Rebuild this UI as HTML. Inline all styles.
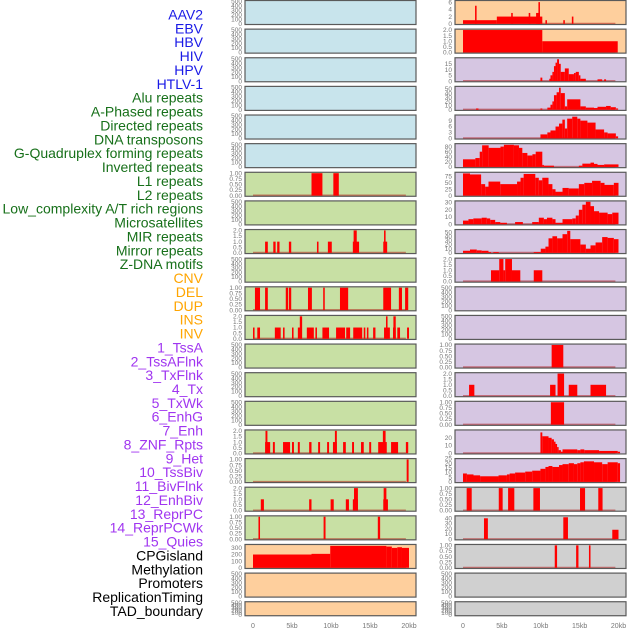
<!DOCTYPE html>
<html><head><meta charset="utf-8"><style>
html,body{margin:0;padding:0;background:#fff;}
svg{display:block;font-family:"Liberation Sans",sans-serif;}
</style></head><body>
<svg id="chart" width="630" height="630" viewBox="0 0 630 630" xmlns="http://www.w3.org/2000/svg"></svg>
<script>
// ---------- data ----------
const trackLabels = ["AAV2","EBV","HBV","HIV","HPV","HTLV-1","Alu repeats","A-Phased repeats","Directed repeats","DNA transposons","G-Quadruplex forming repeats","Inverted repeats","L1 repeats","L2 repeats","Low_complexity A/T rich regions","Microsatellites","MIR repeats","Mirror repeats","Z-DNA motifs","CNV","DEL","DUP","INS","INV","1_TssA","2_TssAFlnk","3_TxFlnk","4_Tx","5_TxWk","6_EnhG","7_Enh","8_ZNF_Rpts","9_Het","10_TssBiv","11_BivFlnk","12_EnhBiv","13_ReprPC","14_ReprPCWk","15_Quies","CPGisland","Methylation","Promoters","ReplicationTiming","TAD_boundary"];
const labelGroups = [6,13,5,15,5];
const xTickKb = [0,5,10,15,20];
const xTickLabels = ["0","5kb","10kb","15kb","20kb"];

const T500=[0,100,200,300,400,500], T1=[0,0.25,0.5,0.75,1], T2=[0,0.5,1,1.5,2];
const leftYmax = [500,500,500,500,500,500, 1,500,2,500,1,2,500,500,500,2,1,2,1, 338,500,500];
const leftTicks = [T500,T500,T500,T500,T500,T500, T1,T500,T2,T500,T1,T2,T500,T500,T500,T2,T1,T2,T1, [0,100,200,300],T500,T500];
const leftSegs = [
 [],[],[],[],[],[],
 [[7.5,8.9,1],[10.3,11.0,1]],
 [],
 [[1.55,1.9,1],[2.6,2.9,1],[3.1,3.4,1],[4.6,4.9,1],[8.2,8.4,1],[9.6,10.1,1],[12.8,13.6,1],[12.9,13.3,2],[16.7,17.2,1],[16.8,17.0,2]],
 [],
 [[0.25,0.9,1],[1.55,1.9,1],[4.2,4.5,1],[4.6,4.9,1],[7.05,7.55,1],[9.0,9.2,1],[11.15,12.2,1],[16.7,17.7,1],[18.7,19.1,1],[19.5,19.9,1]],
 [[0,0.2,1],[0.55,0.9,1],[2.8,3.55,1],[3.85,4.05,1],[5.0,5.2,1],[5.75,6.25,1],[6.0,6.3,2],[6.9,7.8,1],[8.0,8.2,1],[8.9,9.75,1],[10.65,11.8,1],[11.95,12.45,1],[12.85,14.0,1],[14.2,14.4,1],[14.6,14.8,1],[15.4,15.7,1],[16.8,17.55,1],[17.05,17.25,2],[17.95,18.3,1],[18.0,18.3,2],[18.5,18.85,1],[19.75,20.0,1]],
 [],[],[],
 [[1.55,2.2,1],[1.6,1.85,2],[2.55,2.8,1],[3.85,4.75,1],[5.0,5.25,1],[5.75,6.0,1],[7.2,7.5,1],[8.35,8.6,1],[9.5,9.75,1],[10.25,10.75,1],[10.5,10.75,2],[11.55,11.9,1],[12.7,12.95,1],[13.85,14.2,1],[14.9,15.15,1],[16.05,17.15,1],[16.65,17.0,2],[17.7,18.6,1],[19.6,19.9,1]],
 [[19.7,19.95,1]],
 [[1.0,1.4,1],[7.2,7.5,1],[9.95,10.35,1],[11.9,12.3,1],[12.8,13.45,1],[12.95,13.45,2],[16.7,17.3,1],[16.75,17.1,2]],
 [[0.7,0.9,1],[9.05,9.3,1],[16.0,16.3,1]],
 [[0,7.5,200],[7.5,9.9,210],[9.9,17.1,330],[17.1,17.8,320],[17.8,18.5,300],[18.5,19.1,310],[19.1,20,300]],
 [],[]
];
const rightYmax = [6.2,2, 19.5,54,11.4,88,88,31,54,2,500,500,1,2,1,29,24, 1,43,1,500,500];
const rightTicks = [[0,2,4,6],T2,[0,5,10,15],[0,10,20,30,40,50],[0,3,6,9],[0,20,40,60,80],[0,25,50,75],[0,10,20,30],[0,10,20,30,40,50],T2,T500,T500,T1,T2,T1,[0,10,20],[0,5,10,15,20,25],T1,[0,10,20,30,40],T1,T500,T500];
const rightSegs = [
 [[0,4.35,1],[1.55,1.75,5],[4.35,10.2,2],[6.2,6.4,3],[8.45,8.65,3],[9.4,9.9,3],[9.7,9.9,6],[10.6,10.8,1],[12.9,13.1,1],[14.0,14.2,2]],
 [[0,10.2,2],[10.2,19.9,1]],
 [[9.96,10.2,3],[11.1,11.25,2],[11.25,11.5,5],[11.5,11.7,8],[11.7,11.9,13],[11.9,12.1,16],[12.1,12.35,19],[12.35,12.57,15],[12.57,13.1,8],[13.1,13.6,11],[13.6,14.27,6],[14.27,14.5,7],[14.5,14.9,8],[14.9,15.1,5],[15.1,15.8,2],[17.3,17.9,1.5],[18.15,18.4,1.5]],
 [[1.68,1.99,3],[9.96,10.2,3],[10.85,11.25,5],[11.25,11.5,12],[11.5,11.7,20],[11.7,12.04,35],[12.04,12.35,42],[12.35,12.57,53],[12.57,13.1,40],[13.1,13.4,8],[13.4,15.1,25],[15.1,15.8,8],[15.8,16.85,5],[16.85,17.3,4],[17.3,18.4,7],[18.4,19.0,9],[19.0,19.66,6],[19.66,19.95,3]],
 [[9.96,10.85,2],[10.85,11.25,3],[11.25,11.9,4],[11.9,12.35,6],[12.35,12.78,7.5],[12.78,13.1,9.5],[13.1,13.4,5],[13.4,14.05,10],[14.05,14.7,11],[14.7,15.1,10],[15.1,16.0,9],[16.0,17.05,8],[17.05,18.15,4.5],[18.15,18.6,3],[18.6,19.66,2.5],[19.66,19.95,1]],
 [[0,1.59,30],[1.59,2.15,35],[2.15,2.46,60],[2.46,3.3,85],[3.3,4.82,75],[4.82,5.26,80],[5.26,6.55,87],[6.55,7.2,85],[7.2,7.63,75],[7.63,8.28,55],[8.28,8.93,45],[8.93,9.35,50],[9.35,10.2,60],[10.2,10.4,8],[10.4,11.7,5],[14.9,15.35,5],[15.35,16.4,13],[16.4,16.85,17],[16.85,17.3,12],[17.3,18.15,8],[18.15,20,10]],
 [[0,0.9,87],[0.9,2.33,83],[2.33,2.85,45],[2.85,3.28,35],[3.28,4.79,55],[4.79,6.95,45],[6.95,7.4,55],[7.4,7.8,70],[7.8,9.3,85],[9.3,9.75,70],[9.75,10.2,60],[10.2,11.0,70],[11.0,11.5,45],[11.5,11.9,25],[11.9,12.8,15],[12.8,13.6,30],[13.6,14.9,28],[14.9,15.6,45],[15.6,16.6,50],[16.6,17.7,58],[17.7,18.2,50],[18.2,19.4,42],[19.4,20,50]],
 [[0,0.7,5],[0.7,1.33,7],[1.33,2.4,8],[2.4,3.06,9],[3.06,3.5,8],[3.5,4.14,6],[4.14,4.8,3],[4.8,5.65,2],[6.7,7.7,3],[8.9,9.75,3],[9.75,10.4,9],[10.4,10.8,7],[10.8,11.5,9],[11.5,11.9,7],[11.9,12.8,2],[12.8,14.06,7],[14.06,14.5,8],[14.5,14.9,12],[14.9,15.35,20],[15.35,15.8,27],[15.8,16.4,31],[16.4,16.85,25],[16.85,17.5,18],[17.5,18.6,16],[18.6,19.2,14],[19.2,20,16]],
 [[0,0.9,5],[0.9,1.77,8],[1.77,2.4,6],[2.4,3.28,5],[3.28,3.6,2],[3.9,4.6,2],[9.1,10.0,2],[10.0,10.6,10],[10.6,11.0,15],[11.0,11.5,35],[11.5,12.1,40],[12.1,12.8,35],[12.8,13.4,45],[13.4,13.8,53],[13.8,15.1,33],[15.1,15.8,20],[15.8,16.4,10],[16.4,17.05,18],[17.05,17.9,25],[17.9,18.6,38],[18.6,19.4,36],[19.4,20,33]],
 [[3.6,4.66,1],[4.66,5.2,2],[5.2,5.43,1],[5.43,6.3,2],[6.3,7.37,1],[9.1,10.2,1]],
 [],[],
 [[11.4,12.9,1]],
 [[0.78,1.46,1],[11.2,11.9,1],[12.16,13.0,2],[13.6,14.7,1],[16.4,18.4,1]],
 [[11.3,13.0,1]],
 [[9.96,10.2,27],[10.2,11.0,22],[11.0,11.4,20],[11.4,11.7,18],[11.7,11.9,15],[11.9,12.1,12],[12.1,12.3,8],[12.3,12.6,4],[12.6,12.8,2],[12.8,14.7,5],[14.7,15.1,4],[15.1,15.6,5],[15.6,17.5,4],[17.5,19.9,3],[19.9,20.2,2]],
 [[0,0.5,9],[0.5,1.35,8],[1.35,2.2,7],[2.2,4.57,6],[4.57,5.65,7],[5.65,6.0,8],[6.0,6.7,9],[6.7,8.0,10],[8.0,8.9,11],[8.9,9.96,12],[9.96,10.6,14],[10.6,11.0,16],[11.0,11.5,17],[11.5,12.35,16],[12.35,12.8,18],[12.8,13.6,19],[13.6,14.27,20],[14.27,14.7,19],[14.7,15.1,20],[15.1,15.55,21],[15.55,16.85,22],[16.85,17.9,21],[17.9,18.6,19],[18.6,19.9,21],[19.9,20.2,20]],
 [[0.47,1.12,1],[4.6,5.1,1],[5.8,6.6,1],[9.05,9.9,1],[15.05,15.7,1],[17.4,17.95,1]],
 [[2.7,3.2,40],[12.9,13.5,42],[19.2,20,18]],
 [[11.8,12.1,1],[14.55,14.85,1],[16.2,16.4,1]],
 [],[]
];
const leftBg = ["#c8e4ec","#c8e4ec","#c8e4ec","#c8e4ec","#c8e4ec","#c8e4ec","#c8e0a4","#c8e0a4","#c8e0a4","#c8e0a4","#c8e0a4","#c8e0a4","#c8e0a4","#c8e0a4","#c8e0a4","#c8e0a4","#c8e0a4","#c8e0a4","#c8e0a4","#fecf9d","#fecf9d","#fecf9d"];
const rightBg = ["#fecf9d","#fecf9d","#d6c6e2","#d6c6e2","#d6c6e2","#d6c6e2","#d6c6e2","#d6c6e2","#d6c6e2","#d6c6e2","#d6c6e2","#d6c6e2","#d6c6e2","#d6c6e2","#d6c6e2","#d6c6e2","#d6c6e2","#d0d0d0","#d0d0d0","#d0d0d0","#d0d0d0","#d0d0d0"];

// ---------- drawing ----------
const NS="http://www.w3.org/2000/svg";
const svg=document.getElementById('chart');
function mk(tag,attrs,parent){const e=document.createElementNS(NS,tag);for(const k in attrs)e.setAttribute(k,attrs[k]);(parent||svg).appendChild(e);return e;}
const groupColors=["#1a1ae6","#17701a","#ffa500","#a035f0","#000000"];
let li=0;
labelGroups.forEach((n,g)=>{for(let i=0;i<n;i++){const t=mk('text',{x:203,y:19.5+li*13.87,'text-anchor':'end','font-size':'14',fill:groupColors[g]});t.textContent=trackLabels[li];


li++;}});

function rowTop(r){return r*28.63;}
function rowH(r){return r===21?15:25;}
function fmt(v,ticks){const mx=ticks[ticks.length-1];if(mx===1)return v.toFixed(2);if(mx===2)return v.toFixed(1);return String(v);}
function drawCol(side,x0px,x20px,pl,pr,ymaxArr,ticksArr,segsArr,bgArr){
  const xs=kb=>x0px+(x20px-x0px)*kb/20;
  for(let r=0;r<22;r++){
    const top=rowTop(r),h=rowH(r),bot=top+h;
    const g=mk('g',{});
    
    
    mk('rect',{x:pl,y:top+0.5,width:pr-pl,height:h-1,fill:bgArr[r],stroke:'#5a5a5a','stroke-width':1.2},g);
    const ymax=ymaxArr[r];
    const ys=v=>bot-1.2-(v/ymax)*(h-2.6);
    ticksArr[r].forEach(v=>{const t=mk('text',{x:pl-3,y:ys(v)+2.2,'text-anchor':'end','font-size':'6.5',fill:'#777'},g);t.textContent=fmt(v,ticksArr[r]);
    
    });
    const segs=segsArr[r];
    if(segs.length){
      const bl=mk('line',{x1:xs(0),x2:xs(19.6),y1:bot-1.6,y2:bot-1.6,stroke:'rgba(170,0,0,0.45)','stroke-width':1.3},g);
      
      
    }
    segs.forEach(s=>{const x1=xs(s[0]),x2=xs(s[1]);const y=ys(s[2]);
      const b=mk('rect',{x:x1,y:y,width:Math.max(1.2,x2-x1),height:(bot-1.2)-y,fill:'#ff0000'},g);
      
      });
  }
  xTickKb.forEach((k,i)=>{const t=mk('text',{x:xs(k),y:628,'text-anchor':'middle','font-size':'7',fill:'#777'});t.textContent=xTickLabels[i];
  
  });
}
drawCol('left',253,409,245,416,leftYmax,leftTicks,leftSegs,leftBg);
drawCol('right',463,618.5,455,626,rightYmax,rightTicks,rightSegs,rightBg);
</script>
</body></html>
